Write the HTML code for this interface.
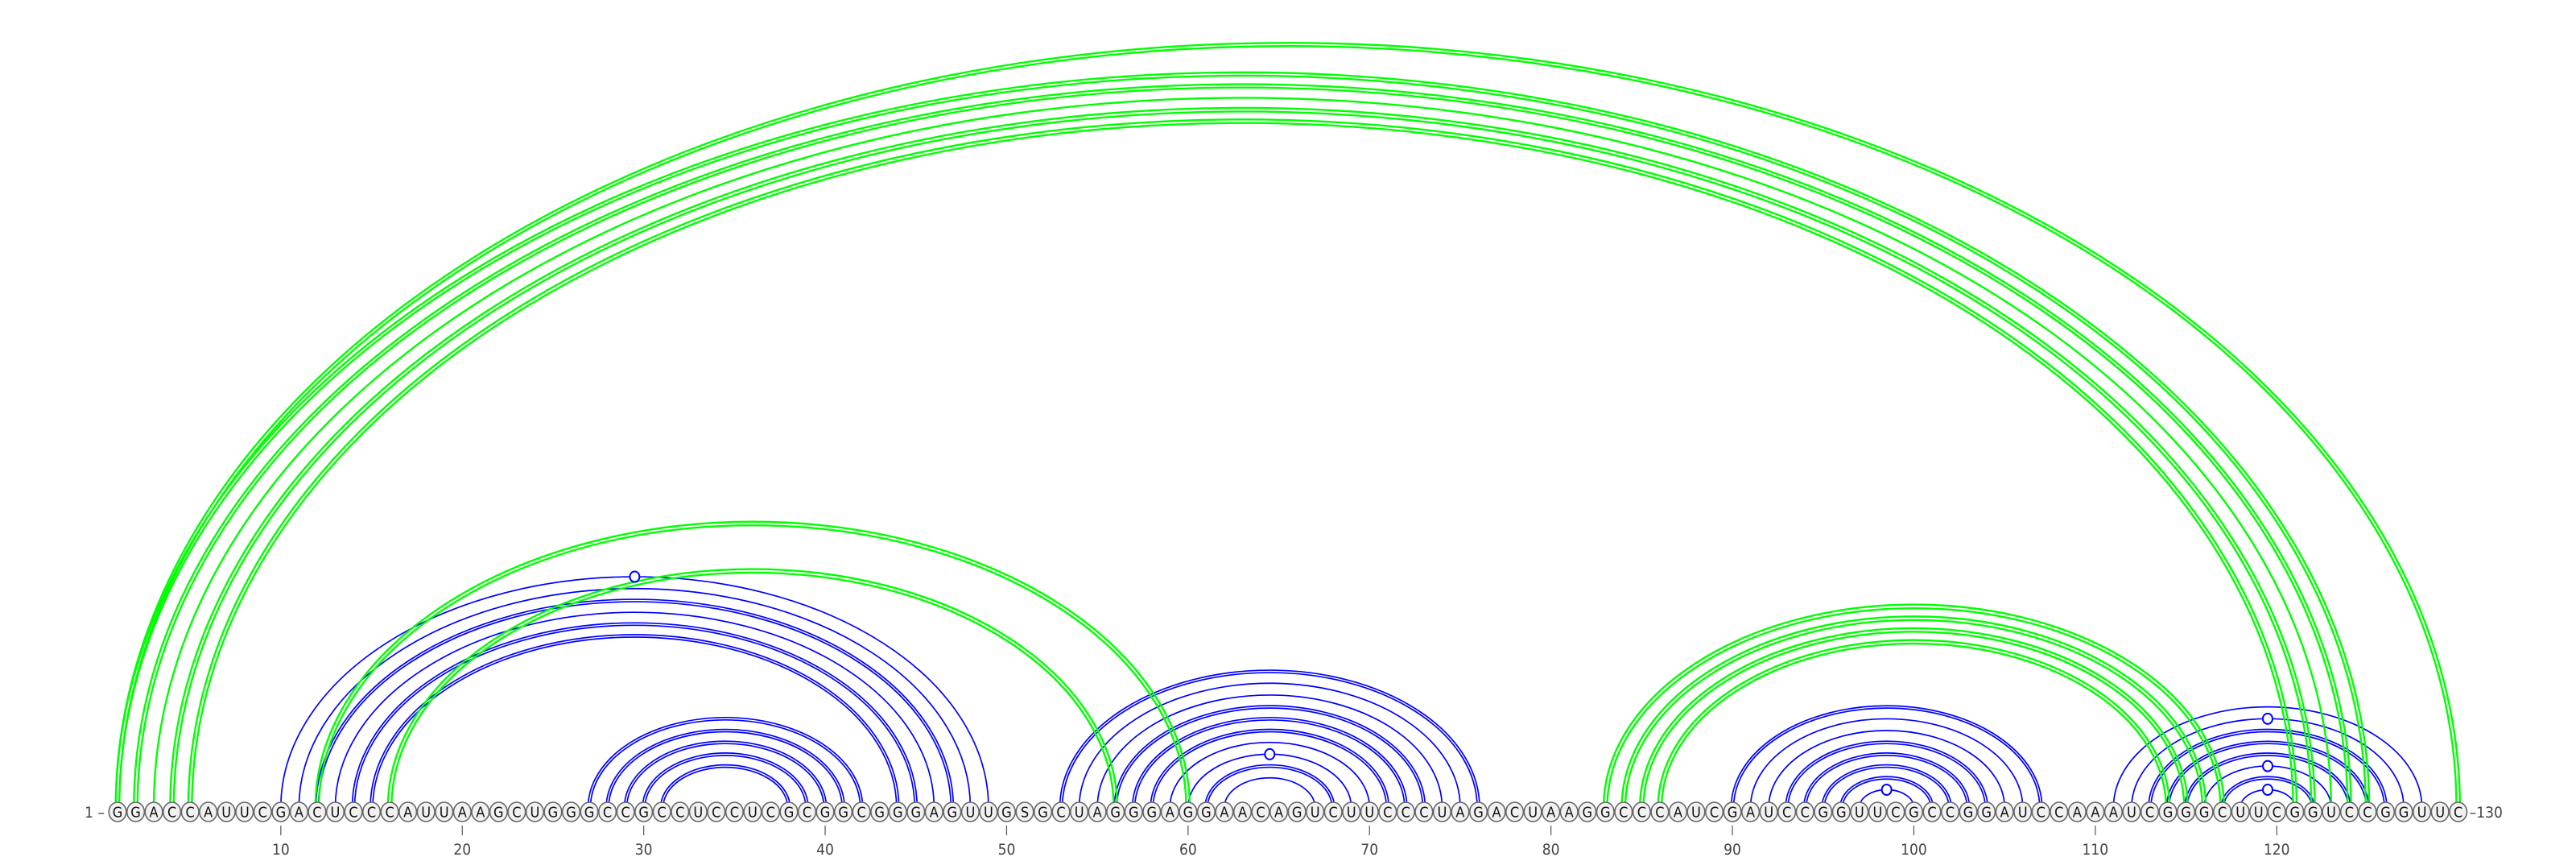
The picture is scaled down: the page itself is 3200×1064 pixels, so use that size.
<!DOCTYPE html>
<html><head><meta charset="utf-8"><title>RNA arc diagram</title>
<style>html,body{margin:0;padding:0;background:#fff;}svg{display:block;}</style>
</head><body>
<svg id="chart" width="3200" height="1064" viewBox="0 0 3200 1064" xmlns="http://www.w3.org/2000/svg">
<g id="arcs"></g>
<g id="markers"></g>
<g id="bases"></g>
<g id="axis"></g>
</svg>
<script>
const sequence = "GGACCAUUCGACUCCCAUUAAGCUGGGCCGCCUCCUCGCGGCGGGAGUUGSGCUAGGGAGGAACAGUCUUCCCUAGACUAAGGCCCAUCGAUCCGGUUCGCCGGAUCCAAAUCGGGCUUCGGUCCGGUUC";
// blue pairs [i, j, double(1)/single(0), marker(1)]
const bluePairs = [
 [10,49,0,1],[11,48,0,0],[12,47,1,0],[13,46,0,0],[14,45,1,0],[15,44,1,0],
 [27,42,1,0],[28,41,1,0],[29,40,1,0],[30,39,1,0],[31,38,1,0],
 [53,76,1,0],[54,75,0,0],[55,74,0,0],[56,73,1,0],[57,72,1,0],[58,71,1,0],[59,70,0,0],[60,69,0,1],[61,68,1,0],[62,67,0,0],
 [90,107,1,0],[91,106,0,0],[92,105,0,0],[93,104,1,0],[94,103,1,0],[95,102,1,0],[96,101,1,0],[97,100,0,1],
 [111,128,0,0],[112,127,0,1],[113,126,1,0],[114,125,1,0],[115,124,1,0],[116,123,0,1],[117,122,1,0],[118,121,0,1]
];
const greenPairs = [
 [1,130,1],[1,125,1],[2,124,1],[3,123,0],[4,122,1],[5,121,1],
 [12,60,1],[16,56,1],
 [83,117,1],[84,116,1],[85,115,1],[86,114,1]
];
const tickLabels = [10,20,30,40,50,60,70,80,90,100,110,120];

const NS = "http://www.w3.org/2000/svg";
const X0 = 146, STEP = 22.54, BASE = 1002.5, K = 0.6517, CY = 1008;
function xPos(i){ return X0 + (i-1)*STEP; }
function mk(tag, attrs, parent){ const e=document.createElementNS(NS,tag); for(const k in attrs) e.setAttribute(k,attrs[k]); parent.appendChild(e); return e; }

const arcs = document.getElementById('arcs');
const markers = document.getElementById('markers');
function arcPath(i,j,off){
  const x1=xPos(i)-off, x2=xPos(j)+off;
  const rx=(x2-x1)/2, ry=K*((xPos(j)-xPos(i))/2)+off;
  return `M${x1},${BASE} A${rx},${ry} 0 0 1 ${x2},${BASE}`;
}
function drawArc(p, color, dbl, w, gap, name){
  const offs = dbl ? [-gap, gap] : [0];
  offs.forEach(o=>{
    const e = mk('path',{d:arcPath(p[0],p[1],o),fill:'none',stroke:color,'stroke-width':w},arcs);
    
    
  });
}
bluePairs.forEach(p=>{
  drawArc(p,'#0000ff',p[2],1.7,1.5,'blue-arc-'+p[0]+'-'+p[1]);
  if(p[3]){
    const cx=(xPos(p[0])+xPos(p[1]))/2, top=BASE-K*(xPos(p[1])-xPos(p[0]))/2;
    const c = mk('ellipse',{cx:cx,cy:top,rx:6,ry:6.5,fill:'#fff',stroke:'#0000ff','stroke-width':2},markers);
    
    
  }
});
greenPairs.forEach(p=>{
  drawArc(p,'#00ff00',p[2],2.4,2.2,'green-arc-'+p[0]+'-'+p[1]);
});

const bases = document.getElementById('bases');
for(let i=1;i<=sequence.length;i++){
  const x=xPos(i);
  const c = mk('ellipse',{cx:x,cy:CY,rx:10.8,ry:12,fill:'#f1f1f1',stroke:'#666','stroke-width':1.6},bases);
  
  
  const t = mk('text',{x:x,y:CY+6.5,'text-anchor':'middle','font-family':'"DejaVu Sans Condensed","Liberation Sans",sans-serif','font-size':18,fill:'#111'},bases);
  t.textContent = sequence[i-1];
  
  
}
const axis = document.getElementById('axis');
tickLabels.forEach(v=>{
  const x=xPos(v);
  const l = mk('line',{x1:x,x2:x,y1:1025,y2:1037,stroke:'#555','stroke-width':1.2},axis);
  
  
  const t = mk('text',{x:x,y:1061,'text-anchor':'middle','font-family':'"DejaVu Sans Condensed","Liberation Sans",sans-serif','font-size':19,fill:'#444'},axis);
  t.textContent = v;
  
  
});
const s = mk('text',{x:130,y:1015,'text-anchor':'end','font-family':'"DejaVu Sans Condensed","Liberation Sans",sans-serif','font-size':19,fill:'#444'},axis);
s.textContent = '1 –';


const e = mk('text',{x:xPos(130)+14,y:1015,'text-anchor':'start','font-family':'"DejaVu Sans Condensed","Liberation Sans",sans-serif','font-size':19,fill:'#444'},axis);
e.textContent = '–130';


</script>
</body></html>
